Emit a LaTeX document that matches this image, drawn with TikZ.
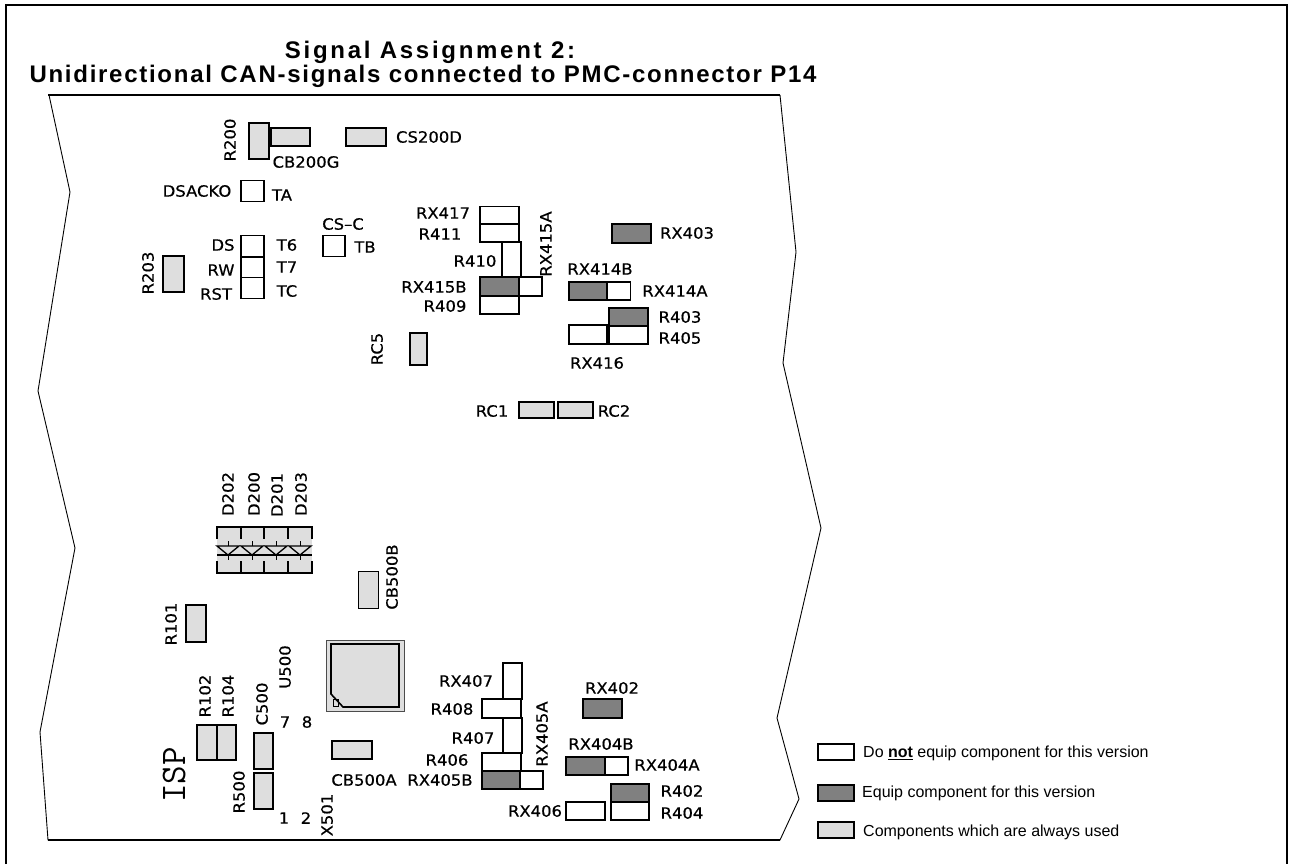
\documentclass[tikz,border=0pt]{standalone}
\usepackage{fontspec}
\setmainfont{Liberation Sans}
\newfontfamily\silkfont[FakeBold=0.5,FakeStretch=1.06]{DejaVu Sans}
\definecolor{alwaysgrey}{gray}{0.87}
\definecolor{equipgrey}{gray}{0.5}
\begin{document}
\begin{tikzpicture}[x=1pt,y=-1pt,
    comp/.style={draw=black,line width=1.3pt,inner sep=0pt,outer sep=0pt},
    always/.style={comp,fill=alwaysgrey},
    equip/.style={comp,fill=equipgrey,line width=2.4pt},
    noequip/.style={comp,fill=white},
    hor/.style={minimum width=39pt,minimum height=18pt},
    vert/.style={minimum width=19pt,minimum height=36pt},
    pad/.style={minimum width=23pt,minimum height=21pt},
    stub/.style={minimum width=23pt,minimum height=18pt},
    legbox/.style={minimum width=36pt,minimum height=16pt},
    lbl/.style={font=\silkfont\fontsize{15.5}{15.5}\selectfont,inner sep=0pt},
    lblv/.style={lbl,rotate=90},
    legtxt/.style={font=\fontsize{16}{17}\selectfont,anchor=west,inner sep=0pt},
    titletxt/.style={font=\bfseries\fontsize{24}{26}\selectfont,anchor=base,inner sep=0pt}]
  \useasboundingbox (0,0) rectangle (1289,864);

  % frame and board
  \draw[line width=2pt] (6,864) -- (6,5) -- (1287,5) -- (1287,864);
  \draw[line width=0.9pt] (49,95) -- (70,192) -- (38,391) -- (75,548) -- (40,732) -- (48,840)
    -- (780,840) -- (799,799) -- (777,718) -- (821,528) -- (783,363) -- (796,252) -- (780,95);
  \draw[line width=1.3pt] (48,95) -- (780,95);
  \draw[line width=1.3pt] (48,840) -- (780,840);

  \node[titletxt] (title1) at (430,59) {\addfontfeature{LetterSpace=11.3}Signal Assignment 2:};
  \node[titletxt] (title2) at (423,83) {\addfontfeature{LetterSpace=7.2}Unidirectional CAN-signals connected to PMC-connector P14};

  % upper part
  \node[always,minimum width=20pt,minimum height=36pt] (R200) at (259,141) {};
  \node[always,hor] (CB200G) at (290.5,137) {};
  \node[always,hor,minimum width=40pt] (CS200D) at (366,137) {};
  \node[noequip,pad] (TA) at (252.5,191) {};
  \node[noequip,pad] (T6) at (252.5,246) {};
  \node[noequip,pad] (T7) at (252.5,267.5) {};
  \node[noequip,pad] (TC) at (252.5,288) {};
  \node[noequip,pad,minimum width=22pt] (TB) at (334,246) {};
  \node[always,minimum width=21pt,minimum height=36pt] (R203) at (173.5,274) {};

  \node[noequip,hor] (RX417) at (499.5,215.5) {};
  \node[noequip,hor] (R411) at (499.5,233) {};
  \node[noequip,vert,minimum height=35pt] (R410) at (511.5,259.5) {};
  \node[noequip,stub,minimum height=19pt] (RX415A) at (530.5,286.5) {};
  \node[equip,hor,minimum height=19pt] (RX415B) at (499.5,286.5) {};
  \node[noequip,hor] (R409) at (499.5,305) {};
  \node[always,minimum width=17pt,minimum height=32pt] (RC5) at (418.5,349) {};
  \node[equip,hor,minimum height=19pt] (RX403) at (631.5,233.5) {};
  \node[noequip,stub] (RX414A) at (619,291) {};
  \node[equip,hor,minimum width=38pt] (RX414B) at (588,291) {};
  \node[noequip,hor,minimum width=38pt,minimum height=19pt] (RX416) at (588,334.5) {};
  \node[noequip,hor] (R405) at (628.5,335) {};
  \node[equip,hor] (R403) at (628.5,317) {};
  \node[always,minimum width=35pt,minimum height=16pt] (RC1) at (536.5,410) {};
  \node[always,minimum width=35pt,minimum height=16pt] (RC2) at (575.5,410) {};

  \node[lblv] (lR200) at (230,140) {R200};
  \node[lbl] (lCB200G) at (306,162) {CB200G};
  \node[lbl] (lCS200D) at (429,137) {CS200D};
  \node[lbl] (lDSACKO) at (197,191) {DSACKO};
  \node[lbl] (lTA) at (282,195) {TA};
  \node[lbl] (lDS) at (223,245) {DS};
  \node[lbl] (lT6) at (287,245) {T6};
  \node[lbl] (lRW) at (221,270) {RW};
  \node[lbl] (lT7) at (287,267) {T7};
  \node[lbl] (lRST) at (216,294) {RST};
  \node[lbl] (lTC) at (287,291) {TC};
  \node[lbl] (lCSC) at (343,224) {CS–C};
  \node[lbl] (lTB) at (365,247) {TB};
  \node[lblv] (lR203) at (148,273) {R203};
  \node[lbl] (lRX417) at (443,213) {RX417};
  \node[lbl] (lR411) at (440,234) {R411};
  \node[lbl] (lR410) at (475,261) {R410};
  \node[lblv] (lRX415A) at (546,244) {RX415A};
  \node[lbl] (lRX415B) at (434,287) {RX415B};
  \node[lbl] (lR409) at (445,306) {R409};
  \node[lbl] (lRX403) at (687,233) {RX403};
  \node[lbl] (lRX414B) at (600,269) {RX414B};
  \node[lbl] (lRX414A) at (675,291) {RX414A};
  \node[lbl] (lR403) at (680,317) {R403};
  \node[lbl] (lR405) at (680,338) {R405};
  \node[lbl] (lRX416) at (597,363) {RX416};
  \node[lbl] (lRC1) at (492,411) {RC1};
  \node[lbl] (lRC2) at (614,411) {RC2};
  \node[lblv] (lRC5) at (377,349) {RC5};

  % diodes
  \fill[alwaysgrey] (217,527) rectangle (312,573);
  \draw[line width=1.3pt] (217,539) -- (217,527) -- (312,527) -- (312,539);
  \draw[line width=1.3pt] (217,561) -- (217,573) -- (312,573) -- (312,561);
  \foreach \x in {241,264,288} {
    \draw[line width=1.3pt] (\x,527) -- (\x,539);
    \draw[line width=1.3pt] (\x,561) -- (\x,573);
  }
  \draw[line width=1.3pt] (217,555) -- (312,555);
  \foreach \x in {228,252,276,300} {
    \draw[line width=1.3pt] (\x-11,546) -- (\x+11,546) -- (\x,555) -- cycle;
    \draw[line width=0.9pt] (\x,541) -- (\x,546);
    \draw[line width=0.9pt] (\x,555) -- (\x,560);
  }
  \node[lblv] (lD202) at (228,494) {D202};
  \node[lblv] (lD200) at (254,494) {D200};
  \node[lblv] (lD201) at (277,495) {D201};
  \node[lblv] (lD203) at (301,494) {D203};

  % lower left part
  \node[always,minimum width=20pt,minimum height=37pt] (CB500B) at (368.5,590) {};
  \node[always,minimum width=20pt,minimum height=37pt] (R101) at (196,623.5) {};
  \node[always,minimum width=78pt,minimum height=71pt,draw=black!70,line width=1pt] (U500) at (365,675.5) {};
  \draw[line width=1.6pt] (331,644) -- (399,644) -- (399,707) -- (343,707) -- (331,694) -- cycle;
  \draw[line width=0.9pt] (333,699) rectangle (338,706);
  \node[always,minimum width=20pt,minimum height=35pt] (R102) at (207,742.5) {};
  \node[always,minimum width=19pt,minimum height=35pt] (R104) at (226.5,742.5) {};
  \node[always,minimum width=19pt,minimum height=36pt] (C500) at (263.5,751) {};
  \node[always,minimum width=19pt,minimum height=36pt] (R500) at (263.5,791) {};
  \node[always,minimum width=40pt,minimum height=18pt] (CB500A) at (352,750) {};

  \node[lblv] (lCB500B) at (392,577) {CB500B};
  \node[lblv] (lR101) at (171,624) {R101};
  \node[lblv] (lU500) at (285,667) {U500};
  \node[lblv] (lR102) at (205,696) {R102};
  \node[lblv] (lR104) at (228,696) {R104};
  \node[lblv] (lC500) at (262,704) {C500};
  \node[lbl] (l7) at (285,722) {7};
  \node[lbl] (l8) at (307,722) {8};
  \node[lblv] (lR500) at (239,792) {R500};
  \node[lbl] (l1) at (284,818) {1};
  \node[lbl] (l2) at (306,818) {2};
  \node[lblv] (lX501) at (327,815) {X501};
  \node[lbl] (lCB500A) at (364,780) {CB500A};
  \node[lblv,font=\ttfamily\fontsize{36}{36}\selectfont] (lISP) at (174,775) {ISP};

  % lower right part
  \node[noequip,vert] (RX407) at (512.5,681) {};
  \node[noequip,hor,minimum height=19pt] (R408) at (501.5,708.5) {};
  \node[noequip,vert,minimum height=35pt] (R407) at (512.5,735.5) {};
  \node[noequip,hor] (R406) at (501.5,762) {};
  \node[noequip,stub] (RX405A) at (531.5,780) {};
  \node[equip,hor,minimum width=38pt] (RX405B) at (501,780) {};
  \node[equip,hor,minimum height=19pt] (RX402) at (602.5,708.5) {};
  \node[noequip,stub] (RX404A) at (616.5,766) {};
  \node[equip,hor] (RX404B) at (585.5,766) {};
  \node[noequip,hor,minimum width=38pt] (R404) at (630,811) {};
  \node[equip,hor,minimum width=38pt] (R402) at (630,793) {};
  \node[noequip,hor] (RX406) at (585.5,811) {};

  \node[lbl] (lRX407) at (466,681) {RX407};
  \node[lbl] (lR408) at (452,709) {R408};
  \node[lbl] (lR407) at (473,738) {R407};
  \node[lbl] (lR406) at (447,760) {R406};
  \node[lbl] (lRX405B) at (440,780) {RX405B};
  \node[lblv] (lRX405A) at (542,734) {RX405A};
  \node[lbl] (lRX402) at (612,688) {RX402};
  \node[lbl] (lRX404B) at (601,744) {RX404B};
  \node[lbl] (lRX404A) at (667,765) {RX404A};
  \node[lbl] (lR402) at (682,791) {R402};
  \node[lbl] (lR404) at (682,813) {R404};
  \node[lbl] (lRX406) at (535,811) {RX406};

  % legend
  \node[noequip,legbox] (legno) at (836,752) {};
  \node[comp,fill=equipgrey,legbox] (legyes) at (836,793) {};
  \node[always,legbox] (legalways) at (836,830) {};
  \node[legtxt] (txtno) at (863,753) {Do \underline{\textbf{not}} equip component for this version};
  \node[legtxt] (txtyes) at (862,793) {Equip component for this version};
  \node[legtxt] (txtalways) at (863,832) {Components which are always used};
\end{tikzpicture}
\end{document}
